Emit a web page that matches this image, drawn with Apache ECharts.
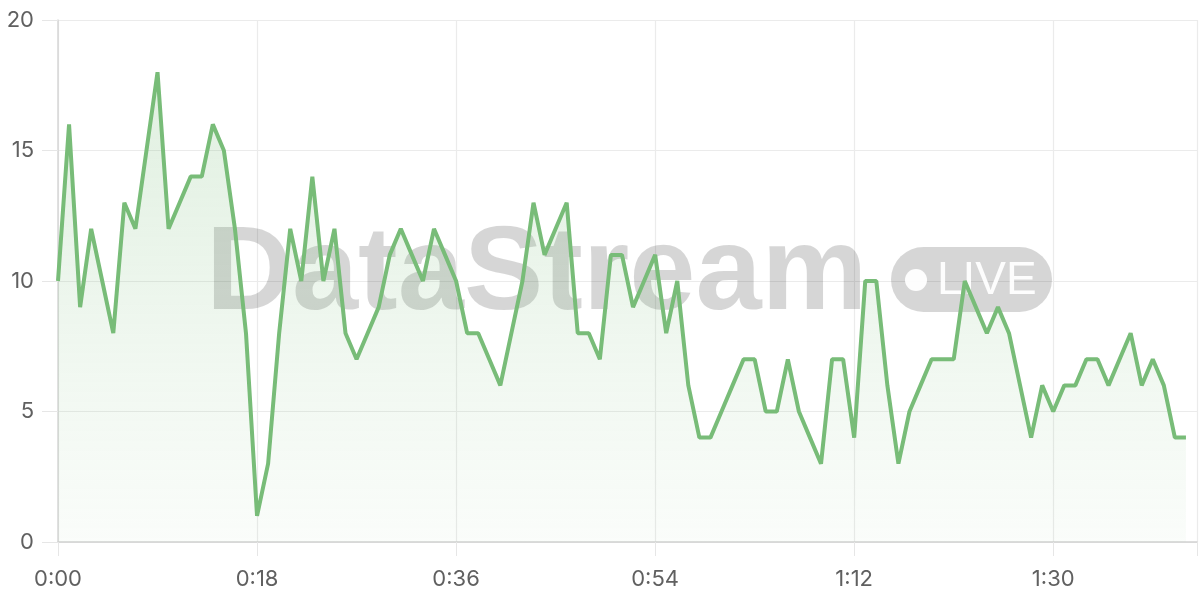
<!DOCTYPE html>
<html><head><meta charset="utf-8">
<script src="https://cdn.jsdelivr.net/npm/echarts@6/dist/echarts.min.js"></script>
<style>html,body{margin:0;padding:0;background:#fff}#c{width:1200px;height:600px}</style>
</head><body><div id="c"></div>
<script>
const seconds = [0,1,2,3,4,5,6,7,8,9,10,11,12,13,14,15,16,17,18,19,20,21,22,23,24,25,26,27,28,29,30,31,32,33,34,35,36,37,38,39,40,41,42,43,44,45,46,47,48,49,50,51,52,53,54,55,56,57,58,59,60,61,62,63,64,65,66,67,68,69,70,71,72,73,74,75,76,77,78,79,80,81,82,83,84,85,86,87,88,89,90,91,92,93,94,95,96,97,98,99,100,101,102];
const values = [10,16,9,12,10,8,13,12,15,18,12,13,14,14,16,15,12,8,1,3,8,12,10,14,10,12,8,7,8,9,11,12,11,10,12,11,10,8,8,7,6,8,10,13,11,12,13,8,8,7,11,11,9,10,11,8,10,6,4,4,5,6,7,7,5,5,7,5,4,3,7,7,4,10,10,6,3,5,6,7,7,7,10,9,8,9,8,6,4,6,5,6,6,7,7,6,7,8,6,7,6,4,4];
const xTickSeconds = [0,18,36,54,72,90];
const yTicks = [0,5,10,15,20];
const xMax = 103;
const watermarkText = 'DataStream';
const badgeText = 'LIVE';

function fmt(v){ const m = Math.floor(v/60), s = v%60; return m + ':' + (s<10?'0':'') + s; }

const chart = echarts.init(document.getElementById('c'), null, {renderer:'canvas'});
const green = '#78bc78';
const wm = 'rgba(0,0,0,0.16)';
chart.setOption({
  animation:false,
  grid:{left:58,right:0,top:20,bottom:58},
  xAxis:{
    type:'value', min:0, max:xMax, interval:xTickSeconds[1]-xTickSeconds[0],
    axisLine:{show:true,lineStyle:{color:'#d2d2d2',width:1.5}},
    axisTick:{show:true,length:14,lineStyle:{color:'#e6e6e6'}},
    splitLine:{show:true,lineStyle:{color:'#ebebeb',width:1.2}},
    axisLabel:{margin:26,color:'#606060',fontSize:22,fontFamily:'Inter',
      formatter:v=> xTickSeconds.indexOf(v)>=0 ? fmt(v) : ''}
  },
  yAxis:{
    type:'value', min:yTicks[0], max:yTicks[yTicks.length-1], interval:yTicks[1]-yTicks[0],
    axisLine:{show:true,lineStyle:{color:'#d6d6d6',width:1.5}},
    axisTick:{show:true,length:16,lineStyle:{color:'#e6e6e6'}},
    splitLine:{show:true,lineStyle:{color:'#ebebeb',width:1.2}},
    axisLabel:{margin:24,color:'#606060',fontSize:22,fontFamily:'Inter'}
  },
  graphic:[
    {type:'text', z:1, style:{x:206, y:276, text:watermarkText, fill:wm,
      font:'bold 119px "Liberation Sans", Arial, sans-serif', textAlign:'left', textVerticalAlign:'middle'}},
    {type:'rect', z:1, shape:{x:891,y:247,width:161,height:65,r:32.5}, style:{fill:wm}},
    {type:'circle', z:1, shape:{cx:916,cy:280,r:11}, style:{fill:'rgba(255,255,255,0.95)'}},
    {type:'text', z:1, style:{x:937, y:281, text:badgeText, fill:'rgba(255,255,255,0.95)',
      font:'46px "Liberation Sans", Arial, sans-serif', textAlign:'left', textVerticalAlign:'middle'}}
  ],
  series:[{
    type:'line', data:seconds.map((s,i)=>[s,values[i]]), symbol:'none', smooth:false,
    lineStyle:{color:green,width:4}, itemStyle:{color:green},
    areaStyle:{color:new echarts.graphic.LinearGradient(0,0,0,1,[
      {offset:0,color:'rgba(120,188,120,0.32)'},{offset:1,color:'rgba(120,188,120,0.05)'}])}
  }]
});
</script></body></html>
